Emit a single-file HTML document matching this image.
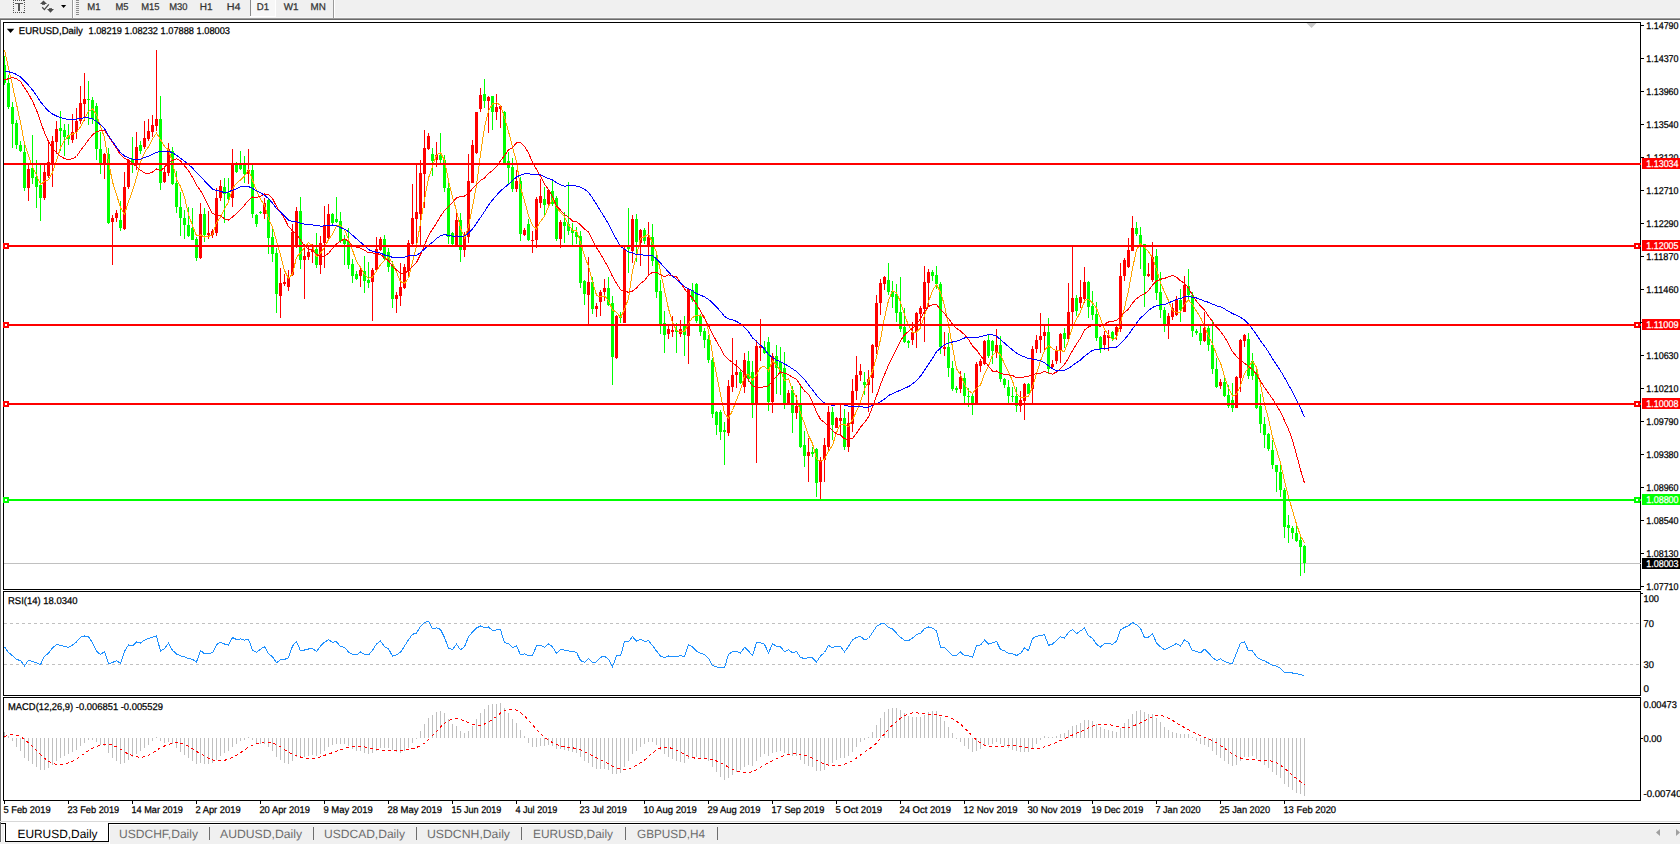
<!DOCTYPE html><html><head><meta charset="utf-8"><style>html,body{margin:0;padding:0;background:#fff;overflow:hidden}body{width:1680px;height:844px;position:relative}svg{display:block;font-family:"Liberation Sans",sans-serif}</style></head><body>
<svg width="1680" height="844" viewBox="0 0 1680 844" text-rendering="geometricPrecision">
<rect x="0" y="0" width="1680" height="844" fill="#ffffff"/>
<rect x="0" y="0" width="1680" height="18" fill="#f0f0f0"/>
<rect x="0" y="17" width="1680" height="1" fill="#f6f6f6"/><rect x="0" y="18" width="1680" height="1" fill="#9c9c9c"/><rect x="0" y="19" width="1680" height="1" fill="#6a6a6a"/>
<rect x="0" y="20" width="1" height="822" fill="#6e6e6e"/>
<rect x="3.5" y="22.5" width="1637" height="567" fill="none" stroke="#000" stroke-width="1"/>
<rect x="3.5" y="591.5" width="1637" height="104" fill="none" stroke="#000" stroke-width="1"/>
<rect x="3.5" y="697.5" width="1637" height="103" fill="none" stroke="#000" stroke-width="1"/>
<defs><clipPath id="cm"><rect x="4" y="23" width="1637" height="566"/></clipPath><clipPath id="cr"><rect x="4" y="592" width="1636" height="103"/></clipPath><clipPath id="cd"><rect x="4" y="698" width="1636" height="102"/></clipPath></defs>
<g clip-path="url(#cm)" shape-rendering="crispEdges">
<rect x="4" y="563" width="1637" height="1" fill="#c0c0c0"/>
<path fill="#00ff00" d="M4 56h1v29h-1z M3 65h3v18h-3z M8 75h1v34h-1z M7 83h3v24h-3z M12 102h1v46h-1z M11 107h3v17h-3z M16 120h1v29h-1z M15 123h3v22h-3z M20 141h1v11h-1z M19 145h3v6h-3z M24 145h1v46h-1z M23 152h3v36h-3z M32 135h1v49h-1z M31 168h3v10h-3z M36 160h1v48h-1z M35 177h3v10h-3z M40 164h1v57h-1z M39 185h3v13h-3z M60 111h1v40h-1z M59 128h3v3h-3z M64 124h1v32h-1z M63 130h3v7h-3z M68 124h1v21h-1z M67 135h3v4h-3z M88 81h1v44h-1z M87 99h3v1h-3z M92 97h1v27h-1z M91 100h3v19h-3z M96 103h1v57h-1z M95 106h3v43h-3z M100 132h1v42h-1z M99 149h3v14h-3z M108 148h1v76h-1z M107 154h3v69h-3z M120 201h1v30h-1z M119 220h3v8h-3z M132 137h1v36h-1z M131 159h3v5h-3z M140 141h1v13h-1z M139 145h3v6h-3z M160 96h1v94h-1z M159 119h3v64h-3z M172 147h1v38h-1z M171 151h3v33h-3z M176 171h1v42h-1z M175 183h3v24h-3z M180 192h1v44h-1z M179 207h3v11h-3z M184 210h1v29h-1z M183 218h3v7h-3z M188 207h1v30h-1z M187 225h3v11h-3z M192 208h1v32h-1z M191 228h3v12h-3z M196 237h1v24h-1z M195 239h3v19h-3z M204 208h1v34h-1z M203 214h3v21h-3z M224 178h1v45h-1z M223 187h3v7h-3z M228 178h1v25h-1z M227 193h3v6h-3z M236 162h1v11h-1z M235 164h3v8h-3z M240 151h1v19h-1z M239 165h3v4h-3z M244 156h1v27h-1z M243 165h3v9h-3z M252 165h1v53h-1z M251 170h3v44h-3z M256 214h1v13h-1z M255 215h3v9h-3z M260 211h1v3h-1z M259 212h3v1h-3z M268 198h1v56h-1z M267 200h3v38h-3z M272 227h1v35h-1z M271 237h3v17h-3z M276 248h1v65h-1z M275 253h3v41h-3z M300 197h1v72h-1z M299 211h3v49h-3z M316 233h1v35h-1z M315 249h3v16h-3z M332 213h1v11h-1z M331 214h3v9h-3z M336 197h1v26h-1z M335 219h3v3h-3z M340 212h1v31h-1z M339 221h3v20h-3z M344 235h1v30h-1z M343 239h3v5h-3z M348 228h1v41h-1z M347 241h3v24h-3z M352 259h1v24h-1z M351 264h3v12h-3z M356 271h1v9h-1z M355 274h3v5h-3z M364 256h1v37h-1z M363 271h3v10h-3z M368 262h1v26h-1z M367 280h3v3h-3z M384 235h1v25h-1z M383 239h3v20h-3z M388 248h1v24h-1z M387 252h3v15h-3z M392 261h1v47h-1z M391 265h3v34h-3z M432 148h1v28h-1z M431 154h3v7h-3z M440 133h1v32h-1z M439 155h3v5h-3z M444 155h1v37h-1z M443 160h3v28h-3z M448 183h1v61h-1z M447 188h3v49h-3z M452 232h1v13h-1z M451 233h3v11h-3z M460 213h1v49h-1z M459 220h3v30h-3z M484 79h1v29h-1z M483 94h3v7h-3z M492 96h1v34h-1z M491 96h3v16h-3z M504 111h1v53h-1z M503 112h3v51h-3z M508 152h1v32h-1z M507 161h3v7h-3z M512 158h1v34h-1z M511 167h3v22h-3z M520 177h1v64h-1z M519 181h3v53h-3z M528 219h1v22h-1z M527 224h3v16h-3z M544 187h1v28h-1z M543 199h3v6h-3z M552 180h1v26h-1z M551 191h3v13h-3z M556 196h1v45h-1z M555 198h3v41h-3z M564 212h1v31h-1z M563 222h3v4h-3z M568 182h1v53h-1z M567 224h3v7h-3z M572 223h1v22h-1z M571 230h3v3h-3z M576 227h1v17h-1z M575 232h3v5h-3z M580 231h1v57h-1z M579 236h3v47h-3z M584 280h1v25h-1z M583 281h3v13h-3z M592 277h1v37h-1z M591 282h3v27h-3z M608 277h1v29h-1z M607 288h3v17h-3z M612 296h1v89h-1z M611 303h3v54h-3z M620 312h1v11h-1z M619 315h3v3h-3z M628 208h1v65h-1z M627 245h3v4h-3z M636 214h1v48h-1z M635 219h3v23h-3z M644 228h1v16h-1z M643 230h3v11h-3z M652 224h1v42h-1z M651 237h3v24h-3z M656 255h1v43h-1z M655 259h3v33h-3z M660 280h1v54h-1z M659 291h3v33h-3z M664 311h1v42h-1z M663 323h3v12h-3z M676 323h1v30h-1z M675 330h3v2h-3z M684 316h1v40h-1z M683 326h3v9h-3z M692 283h1v19h-1z M691 290h3v10h-3z M696 283h1v40h-1z M695 284h3v37h-3z M700 314h1v22h-1z M699 316h3v16h-3z M704 328h1v20h-1z M703 331h3v9h-3z M708 335h1v28h-1z M707 339h3v21h-3z M712 358h1v60h-1z M711 360h3v54h-3z M716 411h1v24h-1z M715 412h3v13h-3z M720 410h1v30h-1z M719 412h3v20h-3z M724 422h1v43h-1z M723 430h3v2h-3z M740 369h1v15h-1z M739 372h3v11h-3z M748 351h1v31h-1z M747 361h3v18h-3z M752 361h1v57h-1z M751 372h3v33h-3z M764 341h1v13h-1z M763 347h3v6h-3z M768 337h1v74h-1z M767 342h3v60h-3z M776 345h1v49h-1z M775 356h3v12h-3z M780 347h1v48h-1z M779 362h3v10h-3z M784 352h1v57h-1z M783 368h3v36h-3z M792 386h1v47h-1z M791 390h3v23h-3z M800 386h1v62h-1z M799 405h3v42h-3z M804 431h1v36h-1z M803 445h3v11h-3z M812 447h1v10h-1z M811 452h3v2h-3z M816 448h1v49h-1z M815 449h3v34h-3z M832 407h1v33h-1z M831 412h3v13h-3z M844 409h1v41h-1z M843 418h3v29h-3z M864 372h1v23h-1z M863 382h3v3h-3z M888 263h1v32h-1z M887 280h3v12h-3z M892 281h1v27h-1z M891 291h3v6h-3z M896 284h1v38h-1z M895 294h3v19h-3z M900 277h1v55h-1z M899 312h3v17h-3z M904 308h1v35h-1z M903 327h3v15h-3z M908 340h1v8h-1z M907 341h3v2h-3z M932 270h1v11h-1z M931 272h3v4h-3z M936 266h1v23h-1z M935 275h3v9h-3z M940 282h1v72h-1z M939 284h3v63h-3z M948 333h1v44h-1z M947 347h3v21h-3z M952 361h1v30h-1z M951 368h3v21h-3z M956 386h1v7h-1z M955 388h3v2h-3z M964 373h1v30h-1z M963 378h3v18h-3z M968 388h1v19h-1z M967 396h3v1h-3z M972 393h1v22h-1z M971 396h3v8h-3z M988 335h1v23h-1z M987 340h3v16h-3z M992 340h1v24h-1z M991 341h3v10h-3z M1000 336h1v46h-1z M999 345h3v34h-3z M1004 378h1v10h-1z M1003 379h3v6h-3z M1008 380h1v23h-1z M1007 387h3v9h-3z M1012 387h1v15h-1z M1011 396h3v1h-3z M1016 387h1v25h-1z M1015 396h3v10h-3z M1028 383h1v11h-1z M1027 384h3v10h-3z M1048 318h1v56h-1z M1047 332h3v37h-3z M1064 328h1v20h-1z M1063 333h3v6h-3z M1076 295h1v21h-1z M1075 298h3v13h-3z M1088 281h1v37h-1z M1087 282h3v25h-3z M1092 291h1v29h-1z M1091 306h3v9h-3z M1096 302h1v39h-1z M1095 314h3v24h-3z M1100 336h1v17h-1z M1099 337h3v12h-3z M1112 331h1v10h-1z M1111 332h3v7h-3z M1136 222h1v14h-1z M1135 228h3v6h-3z M1140 227h1v42h-1z M1139 235h3v9h-3z M1144 244h1v63h-1z M1143 244h3v32h-3z M1156 249h1v51h-1z M1155 256h3v37h-3z M1160 272h1v46h-1z M1159 292h3v18h-3z M1164 307h1v25h-1z M1163 310h3v14h-3z M1180 289h1v33h-1z M1179 300h3v10h-3z M1188 269h1v30h-1z M1187 286h3v9h-3z M1192 292h1v45h-1z M1191 295h3v36h-3z M1196 329h1v6h-1z M1195 331h3v2h-3z M1200 326h1v19h-1z M1199 333h3v8h-3z M1208 326h1v25h-1z M1207 328h3v17h-3z M1212 320h1v54h-1z M1211 345h3v24h-3z M1216 358h1v30h-1z M1215 369h3v18h-3z M1224 377h1v20h-1z M1223 382h3v14h-3z M1228 385h1v23h-1z M1227 395h3v11h-3z M1232 383h1v29h-1z M1231 400h3v8h-3z M1248 333h1v46h-1z M1247 339h3v37h-3z M1252 353h1v27h-1z M1251 361h3v15h-3z M1256 370h1v39h-1z M1255 372h3v36h-3z M1260 394h1v39h-1z M1259 406h3v18h-3z M1264 417h1v31h-1z M1263 424h3v11h-3z M1268 433h1v18h-1z M1267 434h3v15h-3z M1272 440h1v29h-1z M1271 450h3v15h-3z M1276 465h1v27h-1z M1275 465h3v7h-3z M1280 465h1v32h-1z M1279 472h3v18h-3z M1284 488h1v50h-1z M1283 490h3v37h-3z M1288 515h1v28h-1z M1287 525h3v3h-3z M1292 526h1v13h-1z M1291 528h3v5h-3z M1296 526h1v16h-1z M1295 533h3v8h-3z M1300 536h1v40h-1z M1299 540h3v7h-3z M1304 545h1v28h-1z M1303 546h3v17h-3z"/>
<path fill="#ff0000" d="M28 164h1v37h-1z M27 169h3v19h-3z M44 164h1v36h-1z M43 172h3v26h-3z M48 140h1v38h-1z M47 162h3v14h-3z M52 136h1v51h-1z M51 141h3v24h-3z M56 121h1v33h-1z M55 129h3v13h-3z M72 114h1v29h-1z M71 132h3v8h-3z M76 108h1v31h-1z M75 121h3v11h-3z M80 86h1v38h-1z M79 103h3v18h-3z M84 73h1v48h-1z M83 99h3v5h-3z M104 153h1v26h-1z M103 154h3v9h-3z M112 215h1v50h-1z M111 218h3v4h-3z M116 210h1v12h-1z M115 213h3v5h-3z M124 172h1v58h-1z M123 187h3v42h-3z M128 159h1v30h-1z M127 160h3v27h-3z M136 132h1v38h-1z M135 147h3v17h-3z M144 121h1v28h-1z M143 138h3v9h-3z M148 119h1v22h-1z M147 131h3v8h-3z M152 115h1v22h-1z M151 125h3v7h-3z M156 50h1v81h-1z M155 119h3v7h-3z M164 168h1v15h-1z M163 172h3v10h-3z M168 143h1v33h-1z M167 149h3v24h-3z M200 203h1v56h-1z M199 214h3v44h-3z M208 211h1v28h-1z M207 233h3v2h-3z M212 229h1v9h-1z M211 231h3v4h-3z M216 188h1v48h-1z M215 198h3v35h-3z M220 180h1v21h-1z M219 186h3v12h-3z M232 149h1v58h-1z M231 164h3v34h-3z M248 149h1v35h-1z M247 170h3v4h-3z M264 198h1v21h-1z M263 203h3v11h-3z M280 268h1v50h-1z M279 283h3v13h-3z M284 274h1v12h-1z M283 282h3v2h-3z M288 270h1v21h-1z M287 277h3v10h-3z M292 224h1v52h-1z M291 232h3v43h-3z M296 207h1v41h-1z M295 211h3v36h-3z M304 244h1v55h-1z M303 256h3v4h-3z M308 246h1v14h-1z M307 252h3v5h-3z M312 244h1v19h-1z M311 249h3v3h-3z M320 236h1v38h-1z M319 243h3v22h-3z M324 206h1v62h-1z M323 225h3v18h-3z M328 204h1v37h-1z M327 214h3v24h-3z M360 268h1v19h-1z M359 270h3v6h-3z M372 268h1v53h-1z M371 270h3v12h-3z M376 237h1v34h-1z M375 249h3v21h-3z M380 237h1v14h-1z M379 239h3v11h-3z M396 292h1v21h-1z M395 295h3v4h-3z M400 263h1v43h-1z M399 287h3v9h-3z M404 264h1v25h-1z M403 267h3v21h-3z M408 240h1v36h-1z M407 243h3v28h-3z M412 184h1v61h-1z M411 218h3v26h-3z M416 165h1v79h-1z M415 212h3v7h-3z M420 160h1v85h-1z M419 173h3v41h-3z M424 130h1v78h-1z M423 148h3v26h-3z M428 133h1v17h-1z M427 136h3v13h-3z M436 142h1v25h-1z M435 155h3v5h-3z M456 211h1v36h-1z M455 220h3v26h-3z M464 232h1v25h-1z M463 236h3v14h-3z M468 154h1v89h-1z M467 181h3v56h-3z M472 140h1v43h-1z M471 145h3v38h-3z M476 112h1v42h-1z M475 112h3v41h-3z M480 88h1v24h-1z M479 95h3v14h-3z M488 96h1v37h-1z M487 97h3v4h-3z M496 94h1v26h-1z M495 107h3v5h-3z M500 105h1v23h-1z M499 106h3v3h-3z M516 170h1v22h-1z M515 181h3v8h-3z M524 228h1v8h-1z M523 230h3v5h-3z M532 231h1v22h-1z M531 240h3v1h-3z M536 197h1v51h-1z M535 199h3v41h-3z M540 179h1v29h-1z M539 196h3v7h-3z M548 189h1v16h-1z M547 190h3v14h-3z M560 220h1v28h-1z M559 222h3v17h-3z M588 257h1v68h-1z M587 282h3v13h-3z M596 303h1v14h-1z M595 306h3v3h-3z M600 290h1v26h-1z M599 292h3v10h-3z M604 279h1v22h-1z M603 288h3v4h-3z M616 315h1v44h-1z M615 316h3v42h-3z M624 247h1v76h-1z M623 249h3v74h-3z M632 215h1v48h-1z M631 219h3v32h-3z M640 229h1v37h-1z M639 230h3v13h-3z M648 222h1v54h-1z M647 237h3v8h-3z M668 326h1v13h-1z M667 329h3v5h-3z M672 316h1v21h-1z M671 330h3v2h-3z M680 320h1v17h-1z M679 329h3v5h-3z M688 288h1v76h-1z M687 289h3v47h-3z M728 380h1v56h-1z M727 386h3v47h-3z M732 338h1v54h-1z M731 375h3v12h-3z M736 360h1v28h-1z M735 372h3v3h-3z M744 353h1v40h-1z M743 360h3v27h-3z M756 340h1v123h-1z M755 346h3v59h-3z M760 319h1v42h-1z M759 346h3v2h-3z M772 353h1v60h-1z M771 356h3v46h-3z M788 390h1v14h-1z M787 393h3v11h-3z M796 395h1v24h-1z M795 406h3v7h-3z M808 438h1v44h-1z M807 452h3v4h-3z M820 457h1v44h-1z M819 460h3v22h-3z M824 438h1v44h-1z M823 445h3v15h-3z M828 406h1v44h-1z M827 412h3v35h-3z M836 417h1v11h-1z M835 418h3v10h-3z M840 404h1v31h-1z M839 418h3v3h-3z M848 412h1v40h-1z M847 423h3v24h-3z M852 379h1v53h-1z M851 391h3v33h-3z M856 356h1v44h-1z M855 375h3v16h-3z M860 364h1v17h-1z M859 371h3v4h-3z M868 370h1v42h-1z M867 379h3v6h-3z M872 344h1v49h-1z M871 345h3v33h-3z M876 295h1v59h-1z M875 303h3v44h-3z M880 279h1v36h-1z M879 283h3v20h-3z M884 276h1v14h-1z M883 277h3v7h-3z M912 322h1v23h-1z M911 332h3v8h-3z M916 312h1v36h-1z M915 313h3v19h-3z M920 306h1v18h-1z M919 308h3v6h-3z M924 266h1v76h-1z M923 282h3v27h-3z M928 269h1v37h-1z M927 272h3v11h-3z M944 332h1v24h-1z M943 347h3v2h-3z M960 371h1v22h-1z M959 377h3v12h-3z M976 362h1v43h-1z M975 364h3v40h-3z M980 359h1v13h-1z M979 361h3v5h-3z M984 340h1v25h-1z M983 341h3v23h-3z M996 329h1v29h-1z M995 345h3v8h-3z M1020 391h1v21h-1z M1019 400h3v6h-3z M1024 383h1v37h-1z M1023 384h3v17h-3z M1032 346h1v57h-1z M1031 349h3v40h-3z M1036 335h1v18h-1z M1035 340h3v9h-3z M1040 313h1v40h-1z M1039 336h3v4h-3z M1044 324h1v26h-1z M1043 332h3v4h-3z M1052 360h1v8h-1z M1051 364h3v3h-3z M1056 346h1v18h-1z M1055 350h3v11h-3z M1060 333h1v30h-1z M1059 334h3v17h-3z M1068 283h1v56h-1z M1067 312h3v27h-3z M1072 246h1v78h-1z M1071 298h3v14h-3z M1080 280h1v28h-1z M1079 297h3v6h-3z M1084 267h1v36h-1z M1083 282h3v17h-3z M1104 331h1v19h-1z M1103 335h3v10h-3z M1108 330h1v21h-1z M1107 335h3v3h-3z M1116 325h1v15h-1z M1115 327h3v8h-3z M1120 263h1v69h-1z M1119 276h3v53h-3z M1124 258h1v23h-1z M1123 260h3v16h-3z M1128 238h1v30h-1z M1127 250h3v17h-3z M1132 216h1v35h-1z M1131 228h3v23h-3z M1148 263h1v14h-1z M1147 274h3v2h-3z M1152 242h1v40h-1z M1151 257h3v23h-3z M1168 313h1v26h-1z M1167 316h3v8h-3z M1172 303h1v17h-1z M1171 308h3v9h-3z M1176 296h1v20h-1z M1175 300h3v15h-3z M1184 276h1v36h-1z M1183 285h3v27h-3z M1204 312h1v30h-1z M1203 328h3v13h-3z M1220 379h1v10h-1z M1219 382h3v4h-3z M1236 376h1v32h-1z M1235 377h3v31h-3z M1240 339h1v53h-1z M1239 340h3v38h-3z M1244 334h1v13h-1z M1243 335h3v6h-3z"/>
</g>
<polyline clip-path="url(#cm)" fill="none" stroke="#ffa500" stroke-width="1" shape-rendering="crispEdges" points="4.5 49.6 8.5 68.2 12.5 85.5 16.5 104.2 20.5 122.4 24.5 143.4 28.5 155.8 32.5 166.7 36.5 175.1 40.5 184.5 44.5 181.3 48.5 179.9 52.5 172.5 56.5 160.9 60.5 147.5 64.5 140.5 68.5 135.9 72.5 134.0 76.5 132.4 80.5 126.8 84.5 119.1 88.5 111.4 92.5 108.9 96.5 114.5 100.5 126.5 104.5 137.6 108.5 162.0 112.5 181.8 116.5 194.6 120.5 207.6 124.5 214.2 128.5 201.7 132.5 191.0 136.5 177.7 140.5 162.3 144.5 152.5 148.5 146.7 152.5 138.8 156.5 133.2 160.5 139.6 164.5 146.4 168.5 150.0 172.5 161.9 176.5 179.5 180.5 186.5 184.5 197.1 188.5 214.5 192.5 225.6 196.5 235.8 200.5 235.0 204.5 237.0 208.5 236.4 212.5 234.7 216.5 222.6 220.5 217.0 224.5 208.8 228.5 202.0 232.5 188.6 236.5 183.4 240.5 180.0 244.5 175.9 248.5 170.1 252.5 180.1 256.5 190.5 260.5 199.3 264.5 205.2 268.5 218.7 272.5 226.9 276.5 240.9 280.5 254.8 284.5 270.6 288.5 278.5 292.5 274.0 296.5 257.4 300.5 252.8 304.5 247.6 308.5 242.5 312.5 245.9 316.5 256.7 320.5 253.4 324.5 247.2 328.5 239.6 332.5 234.4 336.5 225.8 340.5 225.5 344.5 229.4 348.5 239.6 352.5 250.1 356.5 261.5 360.5 267.3 364.5 274.6 368.5 278.2 372.5 277.0 376.5 271.0 380.5 264.8 384.5 260.4 388.5 257.2 392.5 262.9 396.5 272.1 400.5 281.6 404.5 283.3 408.5 278.5 412.5 262.4 416.5 245.8 420.5 223.1 424.5 199.3 428.5 178.0 432.5 166.6 436.5 155.2 440.5 152.6 444.5 160.6 448.5 180.7 452.5 197.3 456.5 210.3 460.5 228.3 464.5 237.9 468.5 226.7 472.5 206.9 476.5 185.4 480.5 154.3 484.5 127.3 488.5 110.6 492.5 103.9 496.5 102.8 500.5 105.1 504.5 117.5 508.5 131.5 512.5 147.0 516.5 161.8 520.5 187.4 524.5 200.8 528.5 215.3 532.5 225.5 536.5 229.0 540.5 221.4 544.5 216.4 548.5 206.4 552.5 199.2 556.5 207.2 560.5 212.4 564.5 216.6 568.5 224.7 572.5 230.5 576.5 230.2 580.5 242.4 584.5 256.0 588.5 266.3 592.5 281.5 596.5 295.2 600.5 296.9 604.5 295.8 608.5 300.4 612.5 310.0 616.5 312.1 620.5 317.4 624.5 309.6 628.5 298.4 632.5 270.7 636.5 255.8 640.5 238.2 644.5 236.6 648.5 234.2 652.5 242.7 656.5 252.6 660.5 271.5 664.5 290.3 668.5 308.7 672.5 322.5 676.5 330.6 680.5 331.5 684.5 331.5 688.5 323.5 692.5 317.6 696.5 315.3 700.5 315.8 704.5 316.9 708.5 331.1 712.5 353.9 716.5 374.7 720.5 394.8 724.5 413.1 728.5 418.3 732.5 410.5 736.5 399.9 740.5 390.1 744.5 375.7 748.5 374.3 752.5 380.3 756.5 375.0 760.5 367.6 764.5 366.2 768.5 370.8 772.5 360.9 776.5 365.3 780.5 370.5 784.5 380.6 788.5 378.9 792.5 390.3 796.5 397.9 800.5 413.0 804.5 423.5 808.5 435.4 812.5 443.6 816.5 458.9 820.5 461.4 824.5 459.2 828.5 451.2 832.5 445.4 836.5 432.5 840.5 424.1 844.5 424.5 848.5 426.6 852.5 419.8 856.5 411.3 860.5 401.9 864.5 389.5 868.5 380.6 872.5 371.4 876.5 357.0 880.5 339.4 884.5 317.8 888.5 300.4 892.5 290.8 896.5 292.8 900.5 302.0 904.5 315.0 908.5 325.3 912.5 332.2 916.5 332.2 920.5 327.9 924.5 315.9 928.5 301.7 932.5 290.5 936.5 284.6 940.5 292.4 944.5 305.4 948.5 324.6 952.5 347.3 956.5 368.6 960.5 374.6 964.5 384.6 968.5 390.4 972.5 393.4 976.5 388.2 980.5 385.0 984.5 374.0 988.5 365.8 992.5 355.3 996.5 351.4 1000.5 354.9 1004.5 363.7 1008.5 371.7 1012.5 381.0 1016.5 393.2 1020.5 397.4 1024.5 397.1 1028.5 396.6 1032.5 387.0 1036.5 373.7 1040.5 360.9 1044.5 350.5 1048.5 345.5 1052.5 348.6 1056.5 350.7 1060.5 350.3 1064.5 351.7 1068.5 340.3 1072.5 327.0 1076.5 319.2 1080.5 311.8 1084.5 300.4 1088.5 299.4 1092.5 302.7 1096.5 308.1 1100.5 318.6 1104.5 329.2 1108.5 334.9 1112.5 339.7 1116.5 337.5 1120.5 322.8 1124.5 307.8 1128.5 290.7 1132.5 268.5 1136.5 249.9 1140.5 243.6 1144.5 246.9 1148.5 251.7 1152.5 257.6 1156.5 269.5 1160.5 282.6 1164.5 292.0 1168.5 300.6 1172.5 310.8 1176.5 312.1 1180.5 312.1 1184.5 304.3 1188.5 300.0 1192.5 304.5 1196.5 311.2 1200.5 317.4 1204.5 326.1 1208.5 336.2 1212.5 343.8 1216.5 354.6 1220.5 362.7 1224.5 376.3 1228.5 388.4 1232.5 396.1 1236.5 394.1 1240.5 385.8 1244.5 373.5 1248.5 367.5 1252.5 361.1 1256.5 367.3 1260.5 384.2 1264.5 404.2 1268.5 418.9 1272.5 436.8 1276.5 449.7 1280.5 462.7 1284.5 481.1 1288.5 496.9 1292.5 510.5 1296.5 524.2 1300.5 535.7 1304.5 542.9"/>
<polyline clip-path="url(#cm)" fill="none" stroke="#ff0000" stroke-width="1" shape-rendering="crispEdges" points="4.5 80.0 8.5 78.7 12.5 77.5 16.5 78.8 20.5 81.5 24.5 87.9 28.5 93.8 32.5 101.1 36.5 110.1 40.5 121.4 44.5 132.7 48.5 141.6 52.5 148.0 56.5 152.9 60.5 156.3 64.5 158.5 68.5 159.6 72.5 158.6 76.5 156.5 80.5 150.4 84.5 145.4 88.5 139.8 92.5 135.0 96.5 131.5 100.5 130.8 104.5 130.3 108.5 136.1 112.5 142.5 116.5 148.3 120.5 154.8 124.5 158.2 128.5 160.3 132.5 163.4 136.5 166.5 140.5 170.2 144.5 172.9 148.5 173.8 152.5 172.0 156.5 168.9 160.5 170.9 164.5 167.3 168.5 162.4 172.5 160.4 176.5 158.8 180.5 161.0 184.5 165.7 188.5 170.8 192.5 177.4 196.5 185.1 200.5 190.5 204.5 198.0 208.5 205.7 212.5 213.7 216.5 214.7 220.5 215.7 224.5 218.9 228.5 220.0 232.5 216.9 236.5 213.6 240.5 209.6 244.5 205.2 248.5 200.2 252.5 197.0 256.5 197.7 260.5 196.2 264.5 194.0 268.5 194.5 272.5 198.6 276.5 206.3 280.5 212.6 284.5 218.5 288.5 226.6 292.5 230.9 296.5 233.9 300.5 240.0 304.5 246.2 308.5 248.9 312.5 250.7 316.5 254.4 320.5 257.2 324.5 256.3 328.5 253.4 332.5 248.4 336.5 244.0 340.5 241.1 344.5 238.8 348.5 241.1 352.5 245.8 356.5 247.2 360.5 248.2 364.5 250.3 368.5 252.7 372.5 253.0 376.5 253.5 380.5 254.5 384.5 257.7 388.5 260.8 392.5 266.3 396.5 270.1 400.5 273.1 404.5 273.3 408.5 270.9 412.5 266.6 416.5 262.4 420.5 254.7 424.5 245.1 428.5 235.6 432.5 229.3 436.5 223.3 440.5 216.2 444.5 210.6 448.5 206.2 452.5 202.6 456.5 197.8 460.5 196.6 464.5 196.1 468.5 193.5 472.5 188.7 476.5 184.3 480.5 180.5 484.5 178.0 488.5 173.5 492.5 170.4 496.5 166.6 500.5 160.7 504.5 155.4 508.5 150.0 512.5 147.8 516.5 142.8 520.5 142.7 524.5 146.2 528.5 153.0 532.5 162.1 536.5 169.5 540.5 176.3 544.5 184.0 548.5 189.6 552.5 196.5 556.5 206.0 560.5 210.2 564.5 214.4 568.5 217.3 572.5 221.0 576.5 221.3 580.5 225.1 584.5 228.9 588.5 231.9 592.5 239.8 596.5 247.6 600.5 253.8 604.5 260.8 608.5 268.0 612.5 276.5 616.5 283.2 620.5 289.8 624.5 291.1 628.5 292.3 632.5 291.0 636.5 288.0 640.5 283.5 644.5 280.5 648.5 275.4 652.5 272.2 656.5 272.2 660.5 274.8 664.5 276.9 668.5 274.9 672.5 275.9 676.5 276.9 680.5 282.6 684.5 288.8 688.5 293.8 692.5 297.9 696.5 304.4 700.5 310.9 704.5 318.3 708.5 325.4 712.5 334.1 716.5 341.3 720.5 348.2 724.5 355.6 728.5 359.6 732.5 362.6 736.5 365.7 740.5 369.2 744.5 374.2 748.5 379.9 752.5 385.9 756.5 386.9 760.5 387.3 764.5 386.8 768.5 385.9 772.5 380.9 776.5 376.4 780.5 372.0 784.5 373.3 788.5 374.6 792.5 377.5 796.5 379.1 800.5 385.4 804.5 390.9 808.5 394.3 812.5 402.0 816.5 411.8 820.5 419.4 824.5 422.5 828.5 426.5 832.5 430.6 836.5 433.9 840.5 434.9 844.5 438.8 848.5 439.5 852.5 438.4 856.5 433.3 860.5 427.2 864.5 422.4 868.5 417.0 872.5 407.2 876.5 396.0 880.5 384.4 884.5 374.7 888.5 365.2 892.5 356.6 896.5 349.1 900.5 340.6 904.5 334.9 908.5 331.4 912.5 328.3 916.5 324.2 920.5 318.7 924.5 311.7 928.5 306.5 932.5 304.6 936.5 304.6 940.5 309.6 944.5 313.5 948.5 318.6 952.5 324.0 956.5 328.4 960.5 330.9 964.5 334.7 968.5 339.4 972.5 345.9 976.5 349.9 980.5 355.6 984.5 360.5 988.5 366.3 992.5 371.1 996.5 371.0 1000.5 373.3 1004.5 374.5 1008.5 375.0 1012.5 375.5 1016.5 377.6 1020.5 377.9 1024.5 376.9 1028.5 376.2 1032.5 375.1 1036.5 373.5 1040.5 373.2 1044.5 371.4 1048.5 372.7 1052.5 374.1 1056.5 372.0 1060.5 368.4 1064.5 364.3 1068.5 358.2 1072.5 350.5 1076.5 344.1 1080.5 337.9 1084.5 329.9 1088.5 326.9 1092.5 325.1 1096.5 325.2 1100.5 326.5 1104.5 324.1 1108.5 322.0 1112.5 321.2 1116.5 320.7 1120.5 316.2 1124.5 312.5 1128.5 309.0 1132.5 303.1 1136.5 298.6 1140.5 295.9 1144.5 293.7 1148.5 290.8 1152.5 285.0 1156.5 281.0 1160.5 279.2 1164.5 278.4 1168.5 276.8 1172.5 275.5 1176.5 277.2 1180.5 280.8 1184.5 283.3 1188.5 288.1 1192.5 295.0 1196.5 301.4 1200.5 306.0 1204.5 309.9 1208.5 316.2 1212.5 321.6 1216.5 327.1 1220.5 331.2 1224.5 336.9 1228.5 343.9 1232.5 351.6 1236.5 356.4 1240.5 360.3 1244.5 363.2 1248.5 366.4 1252.5 369.4 1256.5 374.2 1260.5 381.0 1264.5 387.5 1268.5 393.2 1272.5 398.8 1276.5 405.2 1280.5 411.9 1284.5 420.6 1288.5 429.2 1292.5 440.3 1296.5 454.7 1300.5 469.8 1304.5 483.2"/>
<polyline clip-path="url(#cm)" fill="none" stroke="#0000ff" stroke-width="1" shape-rendering="crispEdges" points="4.5 71.8 8.5 71.8 12.5 72.6 16.5 74.5 20.5 77.0 24.5 81.1 28.5 85.1 32.5 89.9 36.5 95.4 40.5 101.7 44.5 106.7 48.5 111.0 52.5 114.0 56.5 116.0 60.5 117.5 64.5 118.7 68.5 119.5 72.5 119.7 76.5 119.1 80.5 118.3 84.5 117.8 88.5 117.9 92.5 118.9 96.5 121.4 100.5 124.8 104.5 128.6 108.5 135.5 112.5 141.6 116.5 147.0 120.5 152.6 124.5 156.0 128.5 157.8 132.5 159.2 136.5 159.2 140.5 159.2 144.5 157.5 148.5 156.3 152.5 154.5 156.5 152.2 160.5 151.7 164.5 151.7 168.5 151.3 172.5 152.7 176.5 155.3 180.5 158.2 184.5 161.2 188.5 164.4 192.5 168.0 196.5 172.6 200.5 176.3 204.5 180.8 208.5 185.2 212.5 189.0 216.5 190.6 220.5 191.3 224.5 192.7 228.5 191.9 232.5 190.1 236.5 188.7 240.5 186.7 244.5 186.3 248.5 186.6 252.5 188.3 256.5 190.8 260.5 192.9 264.5 195.1 268.5 198.6 272.5 203.0 276.5 208.8 280.5 212.1 284.5 215.8 288.5 220.1 292.5 221.6 296.5 221.8 300.5 223.2 304.5 224.2 308.5 224.7 312.5 225.0 316.5 225.3 320.5 226.2 324.5 225.9 328.5 225.3 332.5 225.0 336.5 225.8 340.5 227.6 344.5 229.3 348.5 231.5 352.5 235.2 356.5 238.8 360.5 242.2 364.5 245.8 368.5 249.5 372.5 251.4 376.5 252.2 380.5 253.1 384.5 255.0 388.5 255.9 392.5 257.4 396.5 257.4 400.5 257.6 404.5 257.1 408.5 255.9 412.5 255.5 416.5 255.5 420.5 252.6 424.5 249.0 428.5 245.2 432.5 242.2 436.5 238.6 440.5 235.8 444.5 234.6 448.5 235.4 452.5 236.1 456.5 236.0 460.5 236.3 464.5 236.0 468.5 233.2 472.5 228.9 476.5 223.3 480.5 217.5 484.5 211.5 488.5 205.3 492.5 200.0 496.5 195.3 500.5 190.8 504.5 187.6 508.5 184.3 512.5 180.7 516.5 176.9 520.5 175.1 524.5 173.9 528.5 173.8 532.5 174.5 536.5 174.1 540.5 174.8 544.5 176.8 548.5 178.5 552.5 180.0 556.5 182.8 560.5 184.8 564.5 186.1 568.5 185.9 572.5 185.5 576.5 186.1 580.5 187.2 584.5 189.1 588.5 192.5 592.5 197.9 596.5 204.4 600.5 210.9 604.5 217.2 608.5 224.1 612.5 232.3 616.5 239.3 620.5 246.3 624.5 249.2 628.5 251.9 632.5 252.9 636.5 254.9 640.5 254.8 644.5 255.2 648.5 255.1 652.5 255.8 656.5 258.9 660.5 263.1 664.5 267.5 668.5 272.1 672.5 276.3 676.5 279.4 680.5 283.0 684.5 286.6 688.5 288.6 692.5 290.8 696.5 293.6 700.5 295.2 704.5 296.8 708.5 299.4 712.5 302.9 716.5 306.9 720.5 311.5 724.5 316.3 728.5 319.0 732.5 319.6 736.5 321.5 740.5 323.7 744.5 327.4 748.5 331.7 752.5 337.9 756.5 341.4 760.5 345.2 764.5 349.0 768.5 354.5 772.5 357.6 776.5 360.2 780.5 361.7 784.5 364.0 788.5 366.1 792.5 368.9 796.5 371.4 800.5 375.3 804.5 379.3 808.5 384.8 812.5 389.9 816.5 395.3 820.5 399.6 824.5 403.1 828.5 404.8 832.5 405.2 836.5 404.9 840.5 404.5 844.5 405.0 848.5 406.2 852.5 406.7 856.5 406.8 860.5 406.4 864.5 407.3 868.5 407.3 872.5 405.3 876.5 403.8 880.5 401.7 884.5 399.2 888.5 395.5 892.5 393.6 896.5 391.7 900.5 390.3 904.5 388.3 908.5 386.6 912.5 383.9 916.5 380.8 920.5 376.1 924.5 370.3 928.5 364.3 932.5 358.4 936.5 351.7 940.5 348.0 944.5 344.7 948.5 343.2 952.5 342.0 956.5 341.1 960.5 339.7 964.5 338.0 968.5 337.2 972.5 337.6 976.5 337.2 980.5 336.9 984.5 335.4 988.5 334.7 992.5 334.9 996.5 336.3 1000.5 339.5 1004.5 343.1 1008.5 346.6 1012.5 349.9 1016.5 353.0 1020.5 355.4 1024.5 356.8 1028.5 358.5 1032.5 359.1 1036.5 359.9 1040.5 360.9 1044.5 362.6 1048.5 365.8 1052.5 368.7 1056.5 371.0 1060.5 370.5 1064.5 370.3 1068.5 368.4 1072.5 365.4 1076.5 362.7 1080.5 360.1 1084.5 356.2 1088.5 353.2 1092.5 350.3 1096.5 349.4 1100.5 349.0 1104.5 348.8 1108.5 348.1 1112.5 347.7 1116.5 347.1 1120.5 343.6 1124.5 339.5 1128.5 334.6 1132.5 328.9 1136.5 323.2 1140.5 318.0 1144.5 314.4 1148.5 310.4 1152.5 307.4 1156.5 305.8 1160.5 304.9 1164.5 304.7 1168.5 302.9 1172.5 301.1 1176.5 299.4 1180.5 298.6 1184.5 296.8 1188.5 296.2 1192.5 297.3 1196.5 298.0 1200.5 299.5 1204.5 301.1 1208.5 302.3 1212.5 304.1 1216.5 305.8 1220.5 306.9 1224.5 308.9 1228.5 311.3 1232.5 313.6 1236.5 315.2 1240.5 317.4 1244.5 319.9 1248.5 324.1 1252.5 329.0 1256.5 334.8 1260.5 340.8 1264.5 346.1 1268.5 351.9 1272.5 358.9 1276.5 364.8 1280.5 370.8 1284.5 377.6 1288.5 384.7 1292.5 392.1 1296.5 400.2 1300.5 408.1 1304.5 417.4"/>
<g shape-rendering="crispEdges">
<rect x="4" y="163" width="1637" height="2" fill="#ff0000"/>
<rect x="4" y="245" width="1637" height="2" fill="#ff0000"/>
<rect x="3" y="243" width="6" height="6" fill="#ff0000"/><rect x="5" y="245" width="2" height="2" fill="#fff"/>
<rect x="1634" y="243" width="6" height="6" fill="#ff0000"/><rect x="1636" y="245" width="2" height="2" fill="#fff"/>
<rect x="4" y="324" width="1637" height="2" fill="#ff0000"/>
<rect x="3" y="322" width="6" height="6" fill="#ff0000"/><rect x="5" y="324" width="2" height="2" fill="#fff"/>
<rect x="1634" y="322" width="6" height="6" fill="#ff0000"/><rect x="1636" y="324" width="2" height="2" fill="#fff"/>
<rect x="4" y="403" width="1637" height="2" fill="#ff0000"/>
<rect x="3" y="401" width="6" height="6" fill="#ff0000"/><rect x="5" y="403" width="2" height="2" fill="#fff"/>
<rect x="1634" y="401" width="6" height="6" fill="#ff0000"/><rect x="1636" y="403" width="2" height="2" fill="#fff"/>
<rect x="4" y="499" width="1637" height="2" fill="#00ff00"/>
<rect x="3" y="497" width="6" height="6" fill="#00ff00"/><rect x="5" y="499" width="2" height="2" fill="#fff"/>
<rect x="1634" y="497" width="6" height="6" fill="#00ff00"/><rect x="1636" y="499" width="2" height="2" fill="#fff"/>
</g>
<path d="M1306.5 23 L1316.5 23 L1311.5 28 Z" fill="#c8c8c8"/>
<path d="M6.8 28.8 L14.3 28.8 L10.55 33.1 Z" fill="#000"/>
<text x="18.8" y="34" font-size="9.8" fill="#000" stroke="#000" stroke-width="0.25" textLength="64" lengthAdjust="spacingAndGlyphs">EURUSD,Daily</text>
<text x="88.5" y="34" font-size="9.8" fill="#000" stroke="#000" stroke-width="0.25" textLength="141.5" lengthAdjust="spacingAndGlyphs">1.08219 1.08232 1.07888 1.08003</text>
<g shape-rendering="crispEdges">
<rect x="1641" y="25" width="3" height="1" fill="#000"/>
<rect x="1641" y="58" width="3" height="1" fill="#000"/>
<rect x="1641" y="91" width="3" height="1" fill="#000"/>
<rect x="1641" y="124" width="3" height="1" fill="#000"/>
<rect x="1641" y="157" width="3" height="1" fill="#000"/>
<rect x="1641" y="190" width="3" height="1" fill="#000"/>
<rect x="1641" y="223" width="3" height="1" fill="#000"/>
<rect x="1641" y="256" width="3" height="1" fill="#000"/>
<rect x="1641" y="289" width="3" height="1" fill="#000"/>
<rect x="1641" y="322" width="3" height="1" fill="#000"/>
<rect x="1641" y="355" width="3" height="1" fill="#000"/>
<rect x="1641" y="388" width="3" height="1" fill="#000"/>
<rect x="1641" y="421" width="3" height="1" fill="#000"/>
<rect x="1641" y="454" width="3" height="1" fill="#000"/>
<rect x="1641" y="487" width="3" height="1" fill="#000"/>
<rect x="1641" y="520" width="3" height="1" fill="#000"/>
<rect x="1641" y="553" width="3" height="1" fill="#000"/>
<rect x="1641" y="586" width="3" height="1" fill="#000"/>
</g>
<text x="1646.2" y="29" font-size="9.8" fill="#000" stroke="#000" stroke-width="0.25" textLength="32.4" lengthAdjust="spacingAndGlyphs">1.14790</text>
<text x="1646.2" y="62" font-size="9.8" fill="#000" stroke="#000" stroke-width="0.25" textLength="32.4" lengthAdjust="spacingAndGlyphs">1.14370</text>
<text x="1646.2" y="95" font-size="9.8" fill="#000" stroke="#000" stroke-width="0.25" textLength="32.4" lengthAdjust="spacingAndGlyphs">1.13960</text>
<text x="1646.2" y="128" font-size="9.8" fill="#000" stroke="#000" stroke-width="0.25" textLength="32.4" lengthAdjust="spacingAndGlyphs">1.13540</text>
<text x="1646.2" y="161" font-size="9.8" fill="#000" stroke="#000" stroke-width="0.25" textLength="32.4" lengthAdjust="spacingAndGlyphs">1.13120</text>
<text x="1646.2" y="194" font-size="9.8" fill="#000" stroke="#000" stroke-width="0.25" textLength="32.4" lengthAdjust="spacingAndGlyphs">1.12710</text>
<text x="1646.2" y="227" font-size="9.8" fill="#000" stroke="#000" stroke-width="0.25" textLength="32.4" lengthAdjust="spacingAndGlyphs">1.12290</text>
<text x="1646.2" y="260" font-size="9.8" fill="#000" stroke="#000" stroke-width="0.25" textLength="32.4" lengthAdjust="spacingAndGlyphs">1.11870</text>
<text x="1646.2" y="293" font-size="9.8" fill="#000" stroke="#000" stroke-width="0.25" textLength="32.4" lengthAdjust="spacingAndGlyphs">1.11460</text>
<text x="1646.2" y="359" font-size="9.8" fill="#000" stroke="#000" stroke-width="0.25" textLength="32.4" lengthAdjust="spacingAndGlyphs">1.10630</text>
<text x="1646.2" y="392" font-size="9.8" fill="#000" stroke="#000" stroke-width="0.25" textLength="32.4" lengthAdjust="spacingAndGlyphs">1.10210</text>
<text x="1646.2" y="425" font-size="9.8" fill="#000" stroke="#000" stroke-width="0.25" textLength="32.4" lengthAdjust="spacingAndGlyphs">1.09790</text>
<text x="1646.2" y="458" font-size="9.8" fill="#000" stroke="#000" stroke-width="0.25" textLength="32.4" lengthAdjust="spacingAndGlyphs">1.09380</text>
<text x="1646.2" y="491" font-size="9.8" fill="#000" stroke="#000" stroke-width="0.25" textLength="32.4" lengthAdjust="spacingAndGlyphs">1.08960</text>
<text x="1646.2" y="524" font-size="9.8" fill="#000" stroke="#000" stroke-width="0.25" textLength="32.4" lengthAdjust="spacingAndGlyphs">1.08540</text>
<text x="1646.2" y="557" font-size="9.8" fill="#000" stroke="#000" stroke-width="0.25" textLength="32.4" lengthAdjust="spacingAndGlyphs">1.08130</text>
<text x="1646.2" y="590" font-size="9.8" fill="#000" stroke="#000" stroke-width="0.25" textLength="32.4" lengthAdjust="spacingAndGlyphs">1.07710</text>
<rect x="1642" y="158" width="38" height="11" fill="#ff0000" shape-rendering="crispEdges"/>
<text x="1646.2" y="167" font-size="9.8" fill="#fff" stroke="#fff" stroke-width="0.25" textLength="32.4" lengthAdjust="spacingAndGlyphs">1.13034</text>
<rect x="1642" y="240" width="38" height="11" fill="#ff0000" shape-rendering="crispEdges"/>
<text x="1646.2" y="249" font-size="9.8" fill="#fff" stroke="#fff" stroke-width="0.25" textLength="32.4" lengthAdjust="spacingAndGlyphs">1.12005</text>
<rect x="1642" y="319" width="38" height="11" fill="#ff0000" shape-rendering="crispEdges"/>
<text x="1646.2" y="328" font-size="9.8" fill="#fff" stroke="#fff" stroke-width="0.25" textLength="32.4" lengthAdjust="spacingAndGlyphs">1.11009</text>
<rect x="1642" y="398" width="38" height="11" fill="#ff0000" shape-rendering="crispEdges"/>
<text x="1646.2" y="407" font-size="9.8" fill="#fff" stroke="#fff" stroke-width="0.25" textLength="32.4" lengthAdjust="spacingAndGlyphs">1.10008</text>
<rect x="1642" y="494" width="38" height="11" fill="#00ff00" shape-rendering="crispEdges"/>
<text x="1646.2" y="503" font-size="9.8" fill="#fff" stroke="#fff" stroke-width="0.25" textLength="32.4" lengthAdjust="spacingAndGlyphs">1.08800</text>
<rect x="1642" y="558" width="38" height="11" fill="#000000" shape-rendering="crispEdges"/>
<text x="1646.2" y="567" font-size="9.8" fill="#fff" stroke="#fff" stroke-width="0.25" textLength="32.4" lengthAdjust="spacingAndGlyphs">1.08003</text>
<g clip-path="url(#cr)">
<line x1="4" y1="623.5" x2="1640" y2="623.5" stroke="#c0c0c0" stroke-width="1" stroke-dasharray="3,3" shape-rendering="crispEdges"/>
<line x1="4" y1="664.5" x2="1640" y2="664.5" stroke="#c0c0c0" stroke-width="1" stroke-dasharray="3,3" shape-rendering="crispEdges"/>
<polyline fill="none" stroke="#1e90ff" stroke-width="1" points="4.5 646.9 8.5 652.4 12.5 655.7 16.5 659.5 20.5 660.5 24.5 666.0 28.5 660.1 32.5 661.5 36.5 662.9 40.5 664.5 44.5 656.2 48.5 653.3 52.5 647.7 56.5 644.7 60.5 645.2 64.5 646.7 68.5 647.2 72.5 645.0 76.5 641.9 80.5 637.1 84.5 636.0 88.5 636.6 92.5 643.0 96.5 651.2 100.5 654.5 104.5 651.5 108.5 663.9 112.5 662.4 116.5 660.8 120.5 663.2 124.5 651.3 128.5 645.0 132.5 645.9 136.5 642.0 140.5 643.0 144.5 640.1 148.5 638.5 152.5 637.2 156.5 635.9 160.5 651.2 164.5 648.6 168.5 643.3 172.5 650.3 176.5 654.0 180.5 655.8 184.5 656.9 188.5 658.7 192.5 659.2 196.5 662.1 200.5 650.3 204.5 653.9 208.5 653.3 212.5 652.8 216.5 644.7 220.5 642.2 224.5 644.0 228.5 645.2 232.5 637.5 236.5 639.5 240.5 638.9 244.5 640.1 248.5 639.2 252.5 650.1 256.5 652.2 260.5 649.2 264.5 646.5 268.5 653.8 272.5 656.8 276.5 662.8 280.5 659.6 284.5 659.4 288.5 657.9 292.5 646.0 296.5 641.5 300.5 650.8 304.5 650.0 308.5 649.0 312.5 648.4 316.5 651.6 320.5 646.1 324.5 642.2 328.5 639.9 332.5 642.1 336.5 641.9 340.5 646.5 344.5 647.3 348.5 652.0 352.5 654.2 356.5 654.9 360.5 652.0 364.5 654.5 368.5 654.9 372.5 650.4 376.5 643.9 380.5 641.0 384.5 646.7 388.5 648.8 392.5 656.2 396.5 654.8 400.5 652.2 404.5 646.1 408.5 639.8 412.5 634.3 416.5 633.1 420.5 626.2 424.5 622.7 428.5 621.2 432.5 628.8 436.5 627.8 440.5 629.4 444.5 637.4 448.5 648.1 452.5 649.4 456.5 644.2 460.5 649.8 464.5 646.8 468.5 636.9 472.5 631.9 476.5 628.0 480.5 626.0 484.5 627.5 488.5 627.0 492.5 630.5 496.5 629.9 500.5 629.7 504.5 642.8 508.5 643.6 512.5 647.7 516.5 646.0 520.5 654.8 524.5 653.9 528.5 655.5 532.5 655.3 536.5 646.0 540.5 645.4 544.5 647.2 548.5 643.9 552.5 646.8 556.5 653.3 560.5 649.3 564.5 650.1 568.5 651.0 572.5 651.5 576.5 652.3 580.5 660.6 584.5 662.2 588.5 658.6 592.5 662.8 596.5 661.8 600.5 657.3 604.5 656.2 608.5 659.3 612.5 666.8 616.5 655.7 620.5 656.0 624.5 641.7 628.5 641.7 632.5 636.6 636.5 641.2 640.5 639.2 644.5 641.4 648.5 640.7 652.5 645.6 656.5 651.0 660.5 656.0 664.5 657.4 668.5 656.0 672.5 656.1 676.5 656.5 680.5 655.6 684.5 656.7 688.5 644.5 692.5 646.9 696.5 651.1 700.5 653.1 704.5 654.7 708.5 658.2 712.5 665.6 716.5 666.9 720.5 667.7 724.5 667.7 728.5 654.3 732.5 651.7 736.5 651.1 740.5 653.1 744.5 647.2 748.5 651.0 752.5 655.6 756.5 642.8 760.5 642.8 764.5 644.3 768.5 652.9 772.5 644.0 776.5 646.1 780.5 646.7 784.5 651.9 788.5 649.7 792.5 652.9 796.5 651.4 800.5 657.4 804.5 658.6 808.5 657.7 812.5 658.0 816.5 662.1 820.5 656.0 824.5 652.5 828.5 645.4 832.5 647.7 836.5 646.2 840.5 646.2 844.5 651.9 848.5 646.4 852.5 640.0 856.5 637.2 860.5 636.5 864.5 639.8 868.5 638.5 872.5 632.5 876.5 626.5 880.5 624.0 884.5 623.3 888.5 627.4 892.5 628.9 896.5 633.2 900.5 637.3 904.5 640.4 908.5 640.6 912.5 638.2 916.5 634.4 920.5 633.3 924.5 628.6 928.5 627.0 932.5 628.2 936.5 630.9 940.5 647.3 944.5 647.3 948.5 651.6 952.5 655.5 956.5 655.6 960.5 651.9 964.5 655.7 968.5 655.8 972.5 657.1 976.5 645.9 980.5 645.0 984.5 640.2 988.5 644.1 992.5 642.8 996.5 641.3 1000.5 649.6 1004.5 650.9 1008.5 653.4 1012.5 653.6 1016.5 655.5 1020.5 653.4 1024.5 648.0 1028.5 650.6 1032.5 638.5 1036.5 636.4 1040.5 635.6 1044.5 634.6 1048.5 645.3 1052.5 644.1 1056.5 640.4 1060.5 636.7 1064.5 638.1 1068.5 632.2 1072.5 629.5 1076.5 633.7 1080.5 630.9 1084.5 628.1 1088.5 635.9 1092.5 638.2 1096.5 644.3 1100.5 647.0 1104.5 643.4 1108.5 643.4 1112.5 644.4 1116.5 641.1 1120.5 630.0 1124.5 627.4 1128.5 625.7 1132.5 622.5 1136.5 624.6 1140.5 628.2 1144.5 637.6 1148.5 637.1 1152.5 633.6 1156.5 643.1 1160.5 646.8 1164.5 649.6 1168.5 647.8 1172.5 645.7 1176.5 643.5 1180.5 646.1 1184.5 639.9 1188.5 642.5 1192.5 650.8 1196.5 651.2 1200.5 652.9 1204.5 649.2 1208.5 652.8 1212.5 657.5 1216.5 660.6 1220.5 658.9 1224.5 661.3 1228.5 663.0 1232.5 663.3 1236.5 652.9 1240.5 643.2 1244.5 642.0 1248.5 650.9 1252.5 650.9 1256.5 656.8 1260.5 659.4 1264.5 660.9 1268.5 663.0 1272.5 665.2 1276.5 666.2 1280.5 668.4 1284.5 672.4 1288.5 672.5 1292.5 673.0 1296.5 673.8 1300.5 674.5 1304.5 676.1" shape-rendering="crispEdges"/>
</g>
<text x="8" y="604" font-size="9.8" fill="#000" stroke="#000" stroke-width="0.25" textLength="69.5" lengthAdjust="spacingAndGlyphs">RSI(14) 18.0340</text>
<rect x="1641" y="593" width="2" height="1" fill="#000" shape-rendering="crispEdges"/>
<text x="1643.5" y="602.1" font-size="9.8" fill="#000" stroke="#000" stroke-width="0.25" textLength="15.4" lengthAdjust="spacingAndGlyphs">100</text>
<text x="1643.5" y="627.1" font-size="9.8" fill="#000" stroke="#000" stroke-width="0.25" textLength="10.4" lengthAdjust="spacingAndGlyphs">70</text>
<text x="1643.5" y="668.2" font-size="9.8" fill="#000" stroke="#000" stroke-width="0.25" textLength="10.4" lengthAdjust="spacingAndGlyphs">30</text>
<text x="1643.5" y="692.0" font-size="9.8" fill="#000" stroke="#000" stroke-width="0.25">0</text>
<g clip-path="url(#cd)" shape-rendering="crispEdges">
<path fill="#c0c0c0" d="M4 732h1v6h-1z M8 736h1v2h-1z M12 738h1v3h-1z M16 738h1v9h-1z M20 738h1v13h-1z M24 738h1v20h-1z M28 738h1v23h-1z M32 738h1v26h-1z M36 738h1v29h-1z M40 738h1v32h-1z M44 738h1v32h-1z M48 738h1v30h-1z M52 738h1v27h-1z M56 738h1v23h-1z M60 738h1v20h-1z M64 738h1v18h-1z M68 738h1v16h-1z M72 738h1v14h-1z M76 738h1v12h-1z M80 738h1v8h-1z M84 738h1v5h-1z M88 738h1v2h-1z M92 738h1v2h-1z M96 738h1v4h-1z M100 738h1v7h-1z M104 738h1v8h-1z M108 738h1v15h-1z M112 738h1v20h-1z M116 738h1v23h-1z M120 738h1v26h-1z M124 738h1v25h-1z M128 738h1v22h-1z M132 738h1v19h-1z M136 738h1v16h-1z M140 738h1v13h-1z M144 738h1v10h-1z M148 738h1v7h-1z M152 738h1v3h-1z M156 737h1v1h-1z M160 738h1v3h-1z M164 738h1v5h-1z M168 738h1v4h-1z M172 738h1v6h-1z M176 738h1v10h-1z M180 738h1v14h-1z M184 738h1v17h-1z M188 738h1v20h-1z M192 738h1v23h-1z M196 738h1v26h-1z M200 738h1v25h-1z M204 738h1v26h-1z M208 738h1v26h-1z M212 738h1v25h-1z M216 738h1v22h-1z M220 738h1v18h-1z M224 738h1v15h-1z M228 738h1v13h-1z M232 738h1v9h-1z M236 738h1v6h-1z M240 738h1v3h-1z M244 738h1v2h-1z M248 737h1v1h-1z M252 738h1v2h-1z M256 738h1v5h-1z M260 738h1v6h-1z M264 738h1v6h-1z M268 738h1v9h-1z M272 738h1v13h-1z M276 738h1v19h-1z M280 738h1v22h-1z M284 738h1v25h-1z M288 738h1v26h-1z M292 738h1v23h-1z M296 738h1v19h-1z M300 738h1v19h-1z M304 738h1v19h-1z M308 738h1v18h-1z M312 738h1v17h-1z M316 738h1v18h-1z M320 738h1v16h-1z M324 738h1v13h-1z M328 738h1v9h-1z M332 738h1v7h-1z M336 738h1v6h-1z M340 738h1v6h-1z M344 738h1v6h-1z M348 738h1v8h-1z M352 738h1v11h-1z M356 738h1v13h-1z M360 738h1v13h-1z M364 738h1v15h-1z M368 738h1v16h-1z M372 738h1v15h-1z M376 738h1v13h-1z M380 738h1v10h-1z M384 738h1v10h-1z M388 738h1v10h-1z M392 738h1v12h-1z M396 738h1v14h-1z M400 738h1v15h-1z M404 738h1v13h-1z M408 738h1v10h-1z M412 738h1v5h-1z M416 738h1v1h-1z M420 731h1v7h-1z M424 724h1v14h-1z M428 718h1v20h-1z M432 715h1v23h-1z M436 712h1v26h-1z M440 711h1v27h-1z M444 713h1v25h-1z M448 719h1v19h-1z M452 724h1v14h-1z M456 726h1v12h-1z M460 731h1v7h-1z M464 733h1v5h-1z M468 731h1v7h-1z M472 726h1v12h-1z M476 719h1v19h-1z M480 713h1v25h-1z M484 709h1v29h-1z M488 705h1v33h-1z M492 704h1v34h-1z M496 704h1v34h-1z M500 703h1v35h-1z M504 708h1v30h-1z M508 713h1v25h-1z M512 719h1v19h-1z M516 723h1v15h-1z M520 730h1v8h-1z M524 736h1v2h-1z M528 738h1v5h-1z M532 738h1v9h-1z M536 738h1v9h-1z M540 738h1v8h-1z M544 738h1v8h-1z M548 738h1v7h-1z M552 738h1v8h-1z M556 738h1v11h-1z M560 738h1v11h-1z M564 738h1v12h-1z M568 738h1v13h-1z M572 738h1v14h-1z M576 738h1v15h-1z M580 738h1v19h-1z M584 738h1v23h-1z M588 738h1v25h-1z M592 738h1v29h-1z M596 738h1v31h-1z M600 738h1v31h-1z M604 738h1v31h-1z M608 738h1v32h-1z M612 738h1v36h-1z M616 738h1v36h-1z M620 738h1v35h-1z M624 738h1v29h-1z M628 738h1v23h-1z M632 738h1v16h-1z M636 738h1v13h-1z M640 738h1v9h-1z M644 738h1v6h-1z M648 738h1v4h-1z M652 738h1v4h-1z M656 738h1v7h-1z M660 738h1v12h-1z M664 738h1v16h-1z M668 738h1v19h-1z M672 738h1v21h-1z M676 738h1v23h-1z M680 738h1v24h-1z M684 738h1v25h-1z M688 738h1v21h-1z M692 738h1v19h-1z M696 738h1v19h-1z M700 738h1v20h-1z M704 738h1v21h-1z M708 738h1v23h-1z M712 738h1v29h-1z M716 738h1v34h-1z M720 738h1v39h-1z M724 738h1v42h-1z M728 738h1v40h-1z M732 738h1v37h-1z M736 738h1v34h-1z M740 738h1v32h-1z M744 738h1v29h-1z M748 738h1v27h-1z M752 738h1v28h-1z M756 738h1v23h-1z M760 738h1v19h-1z M764 738h1v16h-1z M768 738h1v18h-1z M772 738h1v15h-1z M776 738h1v14h-1z M780 738h1v13h-1z M784 738h1v15h-1z M788 738h1v16h-1z M792 738h1v18h-1z M796 738h1v18h-1z M800 738h1v22h-1z M804 738h1v26h-1z M808 738h1v28h-1z M812 738h1v29h-1z M816 738h1v33h-1z M820 738h1v33h-1z M824 738h1v32h-1z M828 738h1v27h-1z M832 738h1v25h-1z M836 738h1v22h-1z M840 738h1v20h-1z M844 738h1v20h-1z M848 738h1v18h-1z M852 738h1v14h-1z M856 738h1v9h-1z M860 738h1v4h-1z M864 738h1v2h-1z M868 737h1v1h-1z M872 732h1v6h-1z M876 725h1v13h-1z M880 718h1v20h-1z M884 712h1v26h-1z M888 709h1v29h-1z M892 708h1v30h-1z M896 708h1v30h-1z M900 710h1v28h-1z M904 713h1v25h-1z M908 716h1v22h-1z M912 717h1v21h-1z M916 717h1v21h-1z M920 717h1v21h-1z M924 715h1v23h-1z M928 712h1v26h-1z M932 711h1v27h-1z M936 711h1v27h-1z M940 717h1v21h-1z M944 721h1v17h-1z M948 727h1v11h-1z M952 733h1v5h-1z M956 738h1v1h-1z M960 738h1v4h-1z M964 738h1v8h-1z M968 738h1v11h-1z M972 738h1v14h-1z M976 738h1v13h-1z M980 738h1v11h-1z M984 738h1v8h-1z M988 738h1v7h-1z M992 738h1v6h-1z M996 738h1v4h-1z M1000 738h1v6h-1z M1004 738h1v8h-1z M1008 738h1v10h-1z M1012 738h1v12h-1z M1016 738h1v13h-1z M1020 738h1v14h-1z M1024 738h1v14h-1z M1028 738h1v14h-1z M1032 738h1v10h-1z M1036 738h1v6h-1z M1040 738h1v2h-1z M1044 736h1v2h-1z M1048 737h1v1h-1z M1052 737h1v1h-1z M1056 736h1v2h-1z M1060 734h1v4h-1z M1064 733h1v5h-1z M1068 730h1v8h-1z M1072 726h1v12h-1z M1076 725h1v13h-1z M1080 723h1v15h-1z M1084 720h1v18h-1z M1088 720h1v18h-1z M1092 721h1v17h-1z M1096 724h1v14h-1z M1100 727h1v11h-1z M1104 729h1v9h-1z M1108 730h1v8h-1z M1112 731h1v7h-1z M1116 732h1v6h-1z M1120 728h1v10h-1z M1124 723h1v15h-1z M1128 719h1v19h-1z M1132 714h1v24h-1z M1136 711h1v27h-1z M1140 710h1v28h-1z M1144 712h1v26h-1z M1148 714h1v24h-1z M1152 714h1v24h-1z M1156 718h1v20h-1z M1160 722h1v16h-1z M1164 727h1v11h-1z M1168 730h1v8h-1z M1172 732h1v6h-1z M1176 733h1v5h-1z M1180 734h1v4h-1z M1184 734h1v4h-1z M1188 734h1v4h-1z M1192 737h1v1h-1z M1196 738h1v3h-1z M1200 738h1v6h-1z M1204 738h1v7h-1z M1208 738h1v9h-1z M1212 738h1v13h-1z M1216 738h1v17h-1z M1220 738h1v20h-1z M1224 738h1v23h-1z M1228 738h1v26h-1z M1232 738h1v28h-1z M1236 738h1v27h-1z M1240 738h1v23h-1z M1244 738h1v19h-1z M1248 738h1v19h-1z M1252 738h1v18h-1z M1256 738h1v21h-1z M1260 738h1v24h-1z M1264 738h1v27h-1z M1268 738h1v30h-1z M1272 738h1v34h-1z M1276 738h1v37h-1z M1280 738h1v40h-1z M1284 738h1v46h-1z M1288 738h1v49h-1z M1292 738h1v52h-1z M1296 738h1v55h-1z M1300 738h1v56h-1z M1304 738h1v58h-1z"/>
<polyline fill="none" stroke="#ff0000" stroke-width="1" stroke-dasharray="3,3" points="4.5 736.6 8.5 735.3 12.5 734.7 16.5 735.1 20.5 736.5 24.5 739.3 28.5 742.7 32.5 746.4 36.5 750.5 40.5 754.6 44.5 758.3 48.5 761.3 52.5 763.3 56.5 764.4 60.5 764.5 64.5 764.0 68.5 762.9 72.5 761.2 76.5 759.0 80.5 756.3 84.5 753.5 88.5 750.7 92.5 748.3 96.5 746.5 100.5 745.2 104.5 744.2 108.5 744.3 112.5 745.2 116.5 746.8 120.5 749.2 124.5 751.8 128.5 754.1 132.5 755.8 136.5 756.8 140.5 757.4 144.5 756.8 148.5 755.3 152.5 753.2 156.5 750.3 160.5 747.9 164.5 746.0 168.5 744.3 172.5 743.3 176.5 742.9 180.5 743.3 184.5 744.5 188.5 746.4 192.5 748.9 196.5 751.4 200.5 753.7 204.5 756.1 208.5 758.2 212.5 759.9 216.5 760.8 220.5 760.8 224.5 760.3 228.5 759.2 232.5 757.2 236.5 755.1 240.5 752.6 244.5 750.0 248.5 747.2 252.5 745.1 256.5 743.7 260.5 742.7 264.5 742.0 268.5 742.0 272.5 742.8 276.5 744.6 280.5 746.9 284.5 749.6 288.5 752.2 292.5 754.2 296.5 755.6 300.5 757.0 304.5 758.0 308.5 758.6 312.5 758.4 316.5 757.9 320.5 756.9 324.5 755.4 328.5 753.9 332.5 752.7 336.5 751.2 340.5 749.7 344.5 748.4 348.5 747.4 352.5 746.6 356.5 746.3 360.5 746.3 364.5 746.9 368.5 747.8 372.5 748.9 376.5 749.7 380.5 750.1 384.5 750.3 388.5 750.2 392.5 750.2 396.5 750.3 400.5 750.3 404.5 750.0 408.5 749.4 412.5 748.5 416.5 747.5 420.5 745.7 424.5 743.2 428.5 739.6 432.5 735.6 436.5 731.3 440.5 726.9 444.5 723.2 448.5 720.6 452.5 719.0 456.5 718.5 460.5 719.3 464.5 721.0 468.5 722.8 472.5 724.3 476.5 725.1 480.5 725.1 484.5 724.0 488.5 721.9 492.5 719.4 496.5 716.4 500.5 713.1 504.5 710.6 508.5 709.1 512.5 709.1 516.5 710.2 520.5 712.6 524.5 716.1 528.5 720.2 532.5 724.9 536.5 729.6 540.5 733.7 544.5 737.3 548.5 740.2 552.5 742.6 556.5 744.5 560.5 745.9 564.5 746.7 568.5 747.2 572.5 747.8 576.5 748.6 580.5 749.8 584.5 751.6 588.5 753.6 592.5 755.6 596.5 757.8 600.5 759.9 604.5 761.9 608.5 763.8 612.5 766.2 616.5 768.0 620.5 769.3 624.5 769.7 628.5 769.1 632.5 767.5 636.5 765.4 640.5 762.9 644.5 760.1 648.5 756.6 652.5 753.1 656.5 749.9 660.5 748.0 664.5 747.2 668.5 747.5 672.5 748.5 676.5 750.1 680.5 752.1 684.5 754.3 688.5 756.2 692.5 757.6 696.5 758.4 700.5 758.8 704.5 758.9 708.5 759.1 712.5 759.8 716.5 761.0 720.5 762.6 724.5 764.9 728.5 767.2 732.5 769.2 736.5 770.8 740.5 772.0 744.5 772.7 748.5 772.4 752.5 771.7 756.5 769.9 760.5 767.4 764.5 764.8 768.5 762.7 772.5 760.6 776.5 758.6 780.5 756.9 784.5 755.6 788.5 754.3 792.5 753.7 796.5 753.6 800.5 754.3 804.5 755.1 808.5 756.5 812.5 758.2 816.5 760.3 820.5 762.2 824.5 764.0 828.5 765.1 832.5 765.8 836.5 765.8 840.5 765.1 844.5 764.2 848.5 762.9 852.5 760.8 856.5 758.1 860.5 755.1 864.5 752.3 868.5 749.5 872.5 746.5 876.5 743.0 880.5 738.7 884.5 733.9 888.5 729.3 892.5 725.1 896.5 721.4 900.5 718.2 904.5 715.6 908.5 713.8 912.5 712.9 916.5 712.8 920.5 713.3 924.5 713.9 928.5 714.4 932.5 714.8 936.5 714.9 940.5 715.3 944.5 715.9 948.5 717.0 952.5 718.8 956.5 721.2 960.5 724.2 964.5 727.8 968.5 732.0 972.5 736.4 976.5 740.1 980.5 743.0 984.5 745.1 988.5 746.3 992.5 746.8 996.5 746.8 1000.5 746.6 1004.5 746.2 1008.5 745.7 1012.5 745.6 1016.5 745.8 1020.5 746.5 1024.5 747.2 1028.5 748.0 1032.5 748.6 1036.5 748.6 1040.5 748.0 1044.5 746.8 1048.5 745.6 1052.5 744.1 1056.5 742.4 1060.5 740.6 1064.5 738.7 1068.5 736.8 1072.5 735.0 1076.5 733.3 1080.5 731.8 1084.5 729.9 1088.5 727.9 1092.5 726.2 1096.5 725.0 1100.5 724.3 1104.5 724.2 1108.5 724.6 1112.5 725.3 1116.5 726.3 1120.5 727.2 1124.5 727.6 1128.5 727.4 1132.5 726.4 1136.5 724.6 1140.5 722.6 1144.5 720.6 1148.5 718.7 1152.5 716.7 1156.5 715.6 1160.5 715.5 1164.5 716.3 1168.5 718.1 1172.5 720.4 1176.5 722.9 1180.5 725.4 1184.5 727.6 1188.5 729.8 1192.5 731.9 1196.5 733.9 1200.5 735.7 1204.5 737.3 1208.5 738.8 1212.5 740.7 1216.5 742.9 1220.5 745.4 1224.5 748.3 1228.5 751.1 1232.5 753.9 1236.5 756.3 1240.5 758.0 1244.5 759.1 1248.5 759.7 1252.5 759.9 1256.5 760.0 1260.5 760.1 1264.5 760.3 1268.5 760.5 1272.5 761.3 1276.5 762.9 1280.5 765.3 1284.5 768.3 1288.5 771.7 1292.5 775.2 1296.5 778.6 1300.5 781.8 1304.5 784.9"/>
</g>
<text x="8" y="710" font-size="9.8" fill="#000" stroke="#000" stroke-width="0.25" textLength="155" lengthAdjust="spacingAndGlyphs">MACD(12,26,9) -0.006851 -0.005529</text>
<text x="1643.5" y="708.3" font-size="9.8" fill="#000" stroke="#000" stroke-width="0.25" textLength="33.4" lengthAdjust="spacingAndGlyphs">0.00473</text>
<text x="1643.5" y="742.2" font-size="9.8" fill="#000" stroke="#000" stroke-width="0.25" textLength="18.3" lengthAdjust="spacingAndGlyphs">0.00</text>
<text x="1643.5" y="796.6" font-size="9.8" fill="#000" stroke="#000" stroke-width="0.25" textLength="38" lengthAdjust="spacingAndGlyphs">-0.00740</text>
<rect x="1641" y="738" width="2" height="1" fill="#000" shape-rendering="crispEdges"/>
<rect x="4" y="800" width="1" height="4" fill="#000" shape-rendering="crispEdges"/>
<text x="3.4" y="813" font-size="9.8" fill="#000" stroke="#000" stroke-width="0.25" textLength="47.25" lengthAdjust="spacingAndGlyphs">5 Feb 2019</text>
<rect x="68" y="800" width="1" height="4" fill="#000" shape-rendering="crispEdges"/>
<text x="67.4" y="813" font-size="9.8" fill="#000" stroke="#000" stroke-width="0.25" textLength="51.75" lengthAdjust="spacingAndGlyphs">23 Feb 2019</text>
<rect x="132" y="800" width="1" height="4" fill="#000" shape-rendering="crispEdges"/>
<text x="131.4" y="813" font-size="9.8" fill="#000" stroke="#000" stroke-width="0.25" textLength="51.5" lengthAdjust="spacingAndGlyphs">14 Mar 2019</text>
<rect x="196" y="800" width="1" height="4" fill="#000" shape-rendering="crispEdges"/>
<text x="195.4" y="813" font-size="9.8" fill="#000" stroke="#000" stroke-width="0.25" textLength="45.25" lengthAdjust="spacingAndGlyphs">2 Apr 2019</text>
<rect x="260" y="800" width="1" height="4" fill="#000" shape-rendering="crispEdges"/>
<text x="259.4" y="813" font-size="9.8" fill="#000" stroke="#000" stroke-width="0.25" textLength="50.5" lengthAdjust="spacingAndGlyphs">20 Apr 2019</text>
<rect x="324" y="800" width="1" height="4" fill="#000" shape-rendering="crispEdges"/>
<text x="323.4" y="813" font-size="9.8" fill="#000" stroke="#000" stroke-width="0.25" textLength="49.5" lengthAdjust="spacingAndGlyphs">9 May 2019</text>
<rect x="388" y="800" width="1" height="4" fill="#000" shape-rendering="crispEdges"/>
<text x="387.4" y="813" font-size="9.8" fill="#000" stroke="#000" stroke-width="0.25" textLength="54.75" lengthAdjust="spacingAndGlyphs">28 May 2019</text>
<rect x="452" y="800" width="1" height="4" fill="#000" shape-rendering="crispEdges"/>
<text x="451.4" y="813" font-size="9.8" fill="#000" stroke="#000" stroke-width="0.25" textLength="50.0" lengthAdjust="spacingAndGlyphs">15 Jun 2019</text>
<rect x="516" y="800" width="1" height="4" fill="#000" shape-rendering="crispEdges"/>
<text x="515.4" y="813" font-size="9.8" fill="#000" stroke="#000" stroke-width="0.25" textLength="42.0" lengthAdjust="spacingAndGlyphs">4 Jul 2019</text>
<rect x="580" y="800" width="1" height="4" fill="#000" shape-rendering="crispEdges"/>
<text x="579.4" y="813" font-size="9.8" fill="#000" stroke="#000" stroke-width="0.25" textLength="47.5" lengthAdjust="spacingAndGlyphs">23 Jul 2019</text>
<rect x="644" y="800" width="1" height="4" fill="#000" shape-rendering="crispEdges"/>
<text x="643.4" y="813" font-size="9.8" fill="#000" stroke="#000" stroke-width="0.25" textLength="53.5" lengthAdjust="spacingAndGlyphs">10 Aug 2019</text>
<rect x="708" y="800" width="1" height="4" fill="#000" shape-rendering="crispEdges"/>
<text x="707.4" y="813" font-size="9.8" fill="#000" stroke="#000" stroke-width="0.25" textLength="53.0" lengthAdjust="spacingAndGlyphs">29 Aug 2019</text>
<rect x="772" y="800" width="1" height="4" fill="#000" shape-rendering="crispEdges"/>
<text x="771.4" y="813" font-size="9.8" fill="#000" stroke="#000" stroke-width="0.25" textLength="53.0" lengthAdjust="spacingAndGlyphs">17 Sep 2019</text>
<rect x="836" y="800" width="1" height="4" fill="#000" shape-rendering="crispEdges"/>
<text x="835.4" y="813" font-size="9.8" fill="#000" stroke="#000" stroke-width="0.25" textLength="46.7" lengthAdjust="spacingAndGlyphs">5 Oct 2019</text>
<rect x="900" y="800" width="1" height="4" fill="#000" shape-rendering="crispEdges"/>
<text x="899.4" y="813" font-size="9.8" fill="#000" stroke="#000" stroke-width="0.25" textLength="51.7" lengthAdjust="spacingAndGlyphs">24 Oct 2019</text>
<rect x="964" y="800" width="1" height="4" fill="#000" shape-rendering="crispEdges"/>
<text x="963.4" y="813" font-size="9.8" fill="#000" stroke="#000" stroke-width="0.25" textLength="54.3" lengthAdjust="spacingAndGlyphs">12 Nov 2019</text>
<rect x="1028" y="800" width="1" height="4" fill="#000" shape-rendering="crispEdges"/>
<text x="1027.4" y="813" font-size="9.8" fill="#000" stroke="#000" stroke-width="0.25" textLength="54.0" lengthAdjust="spacingAndGlyphs">30 Nov 2019</text>
<rect x="1092" y="800" width="1" height="4" fill="#000" shape-rendering="crispEdges"/>
<text x="1091.4" y="813" font-size="9.8" fill="#000" stroke="#000" stroke-width="0.25" textLength="52.0" lengthAdjust="spacingAndGlyphs">19 Dec 2019</text>
<rect x="1156" y="800" width="1" height="4" fill="#000" shape-rendering="crispEdges"/>
<text x="1155.4" y="813" font-size="9.8" fill="#000" stroke="#000" stroke-width="0.25" textLength="45.3" lengthAdjust="spacingAndGlyphs">7 Jan 2020</text>
<rect x="1220" y="800" width="1" height="4" fill="#000" shape-rendering="crispEdges"/>
<text x="1219.4" y="813" font-size="9.8" fill="#000" stroke="#000" stroke-width="0.25" textLength="50.7" lengthAdjust="spacingAndGlyphs">25 Jan 2020</text>
<rect x="1284" y="800" width="1" height="4" fill="#000" shape-rendering="crispEdges"/>
<text x="1283.4" y="813" font-size="9.8" fill="#000" stroke="#000" stroke-width="0.25" textLength="52.7" lengthAdjust="spacingAndGlyphs">13 Feb 2020</text>
<rect x="0" y="821" width="1680" height="1" fill="#d8d8d8"/>
<rect x="0" y="823" width="1680" height="21" fill="#f0f0f0"/>
<rect x="0" y="823" width="1680" height="1" fill="#000"/>
<rect x="109" y="824" width="1571" height="1" fill="#fff"/><rect x="109" y="824" width="1" height="20" fill="#fff"/>
<rect x="0" y="823" width="1" height="19" fill="#6e6e6e"/><rect x="1" y="824" width="1" height="18" fill="#fafafa"/><rect x="4" y="824" width="1" height="18" fill="#fff"/>
<rect x="5" y="823" width="104" height="19" fill="#fff"/>
<path d="M5.5 823 V841.5 H108.5 V823" fill="none" stroke="#000" stroke-width="1" shape-rendering="crispEdges"/>
<text x="17.5" y="837.5" font-size="12" fill="#000" stroke="#000" stroke-width="0" textLength="80" lengthAdjust="spacingAndGlyphs">EURUSD,Daily</text>
<text x="119" y="837.5" font-size="12" fill="#6d6d6d" stroke="#6d6d6d" stroke-width="0" textLength="79" lengthAdjust="spacingAndGlyphs">USDCHF,Daily</text>
<rect x="209" y="827" width="1" height="13" fill="#6d6d6d"/>
<text x="220" y="837.5" font-size="12" fill="#6d6d6d" stroke="#6d6d6d" stroke-width="0" textLength="82" lengthAdjust="spacingAndGlyphs">AUDUSD,Daily</text>
<rect x="313" y="827" width="1" height="13" fill="#6d6d6d"/>
<text x="324" y="837.5" font-size="12" fill="#6d6d6d" stroke="#6d6d6d" stroke-width="0" textLength="81" lengthAdjust="spacingAndGlyphs">USDCAD,Daily</text>
<rect x="416" y="827" width="1" height="13" fill="#6d6d6d"/>
<text x="427" y="837.5" font-size="12" fill="#6d6d6d" stroke="#6d6d6d" stroke-width="0" textLength="83" lengthAdjust="spacingAndGlyphs">USDCNH,Daily</text>
<rect x="521" y="827" width="1" height="13" fill="#6d6d6d"/>
<text x="533" y="837.5" font-size="12" fill="#6d6d6d" stroke="#6d6d6d" stroke-width="0" textLength="80" lengthAdjust="spacingAndGlyphs">EURUSD,Daily</text>
<rect x="625" y="827" width="1" height="13" fill="#6d6d6d"/>
<text x="637" y="837.5" font-size="12" fill="#6d6d6d" stroke="#6d6d6d" stroke-width="0" textLength="68" lengthAdjust="spacingAndGlyphs">GBPUSD,H4</text>
<rect x="717" y="827" width="1" height="13" fill="#6d6d6d"/>
<path d="M1660 829 L1656 832.5 L1660 836 Z" fill="#a0a0a0"/><path d="M1676 829 L1680 832.5 L1676 836 Z" fill="#a0a0a0"/>
<g shape-rendering="crispEdges">
<rect x="13" y="0" width="1" height="1" fill="#555"/><rect x="13" y="12" width="1" height="1" fill="#555"/>
<rect x="15" y="0" width="1" height="1" fill="#555"/><rect x="15" y="12" width="1" height="1" fill="#555"/>
<rect x="17" y="0" width="1" height="1" fill="#555"/><rect x="17" y="12" width="1" height="1" fill="#555"/>
<rect x="19" y="0" width="1" height="1" fill="#555"/><rect x="19" y="12" width="1" height="1" fill="#555"/>
<rect x="21" y="0" width="1" height="1" fill="#555"/><rect x="21" y="12" width="1" height="1" fill="#555"/>
<rect x="23" y="0" width="1" height="1" fill="#555"/><rect x="23" y="12" width="1" height="1" fill="#555"/>
<rect x="13" y="0" width="1" height="1" fill="#555"/><rect x="24" y="0" width="1" height="1" fill="#555"/>
<rect x="13" y="2" width="1" height="1" fill="#555"/><rect x="24" y="2" width="1" height="1" fill="#555"/>
<rect x="13" y="4" width="1" height="1" fill="#555"/><rect x="24" y="4" width="1" height="1" fill="#555"/>
<rect x="13" y="6" width="1" height="1" fill="#555"/><rect x="24" y="6" width="1" height="1" fill="#555"/>
<rect x="13" y="8" width="1" height="1" fill="#555"/><rect x="24" y="8" width="1" height="1" fill="#555"/>
<rect x="13" y="10" width="1" height="1" fill="#555"/><rect x="24" y="10" width="1" height="1" fill="#555"/>
<rect x="13" y="12" width="1" height="1" fill="#555"/><rect x="24" y="12" width="1" height="1" fill="#555"/>
<rect x="15" y="3" width="8" height="1" fill="#555"/><rect x="18" y="3" width="2" height="8" fill="#555"/>
</g>
<path d="M40 4 L47 4 L43.5 0.5 Z" fill="#4a4a4a"/><rect x="42" y="3.5" width="3" height="1.3" fill="#4a4a4a"/>
<path d="M47 9 L54 9 L50.5 12.8 Z" fill="#4a4a4a"/><rect x="49" y="8.2" width="3" height="1.3" fill="#4a4a4a"/>
<path d="M42.2 7.2 L44.4 9.6 L48.8 4.3" stroke="#4a4a4a" stroke-width="1.3" fill="none"/>
<path d="M61 5 L66.2 5 L63.6 8 Z" fill="#000"/>
<g shape-rendering="crispEdges">
<rect x="72" y="0" width="1" height="18" fill="#9a9a9a"/><rect x="73" y="0" width="1" height="18" fill="#ffffff"/>
<rect x="76" y="0" width="3" height="1" fill="#8c8c8c"/>
<rect x="76" y="2" width="3" height="1" fill="#8c8c8c"/>
<rect x="76" y="4" width="3" height="1" fill="#8c8c8c"/>
<rect x="76" y="6" width="3" height="1" fill="#8c8c8c"/>
<rect x="76" y="8" width="3" height="1" fill="#8c8c8c"/>
<rect x="76" y="10" width="3" height="1" fill="#8c8c8c"/>
<rect x="76" y="12" width="3" height="1" fill="#8c8c8c"/>
<rect x="76" y="14" width="3" height="1" fill="#8c8c8c"/>
<rect x="251" y="0" width="24" height="16" fill="#f7f7f7"/>
<rect x="250" y="0" width="1" height="16" fill="#8a8a8a"/>
<rect x="250" y="16" width="26" height="1" fill="#ffffff"/><rect x="275" y="0" width="1" height="16" fill="#ffffff"/>
<rect x="333" y="0" width="1" height="18" fill="#9a9a9a"/><rect x="334" y="0" width="1" height="18" fill="#ffffff"/>
</g>
<text x="87.2" y="10" font-size="9.8" fill="#333" stroke="#333" stroke-width="0.25" textLength="13.3" lengthAdjust="spacingAndGlyphs">M1</text>
<text x="115.5" y="10" font-size="9.8" fill="#333" stroke="#333" stroke-width="0.25" textLength="13" lengthAdjust="spacingAndGlyphs">M5</text>
<text x="141.2" y="10" font-size="9.8" fill="#333" stroke="#333" stroke-width="0.25" textLength="18.3" lengthAdjust="spacingAndGlyphs">M15</text>
<text x="169.2" y="10" font-size="9.8" fill="#333" stroke="#333" stroke-width="0.25" textLength="18.3" lengthAdjust="spacingAndGlyphs">M30</text>
<text x="199.7" y="10" font-size="9.8" fill="#333" stroke="#333" stroke-width="0.25" textLength="12.8" lengthAdjust="spacingAndGlyphs">H1</text>
<text x="226.7" y="10" font-size="9.8" fill="#333" stroke="#333" stroke-width="0.25" textLength="13.8" lengthAdjust="spacingAndGlyphs">H4</text>
<text x="256.7" y="10" font-size="9.8" fill="#333" stroke="#333" stroke-width="0.25" textLength="12.3" lengthAdjust="spacingAndGlyphs">D1</text>
<text x="283.7" y="10" font-size="9.8" fill="#333" stroke="#333" stroke-width="0.25" textLength="14.8" lengthAdjust="spacingAndGlyphs">W1</text>
<text x="310.5" y="10" font-size="9.8" fill="#333" stroke="#333" stroke-width="0.25" textLength="15.3" lengthAdjust="spacingAndGlyphs">MN</text>
</svg></body></html>
